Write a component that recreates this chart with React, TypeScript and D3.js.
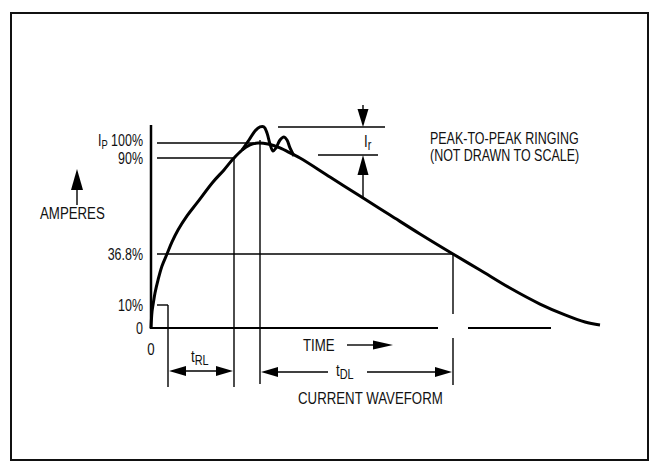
import React from "react";
import * as d3 from "d3";

// percent levels marked on the left axis
const levelValues = [0, 10, 36.8, 90, 100];
const levelLabels = ["0", "10%", "36.8%", "90%", "100%"];
const levelPixels = [328, 305, 254, 158, 143]; // not drawn to scale

// main current waveform (time units, percent of Ip)
const waveT = [0, 0.2, 0.4, 0.8, 1.4, 2.2, 3.2, 4.2, 5.4, 7.2, 9.2, 12.4, 14.6, 16.4, 18.2, 19.8, 21.4, 23.4, 25.8, 28.2, 29.8, 35.8, 41.8, 47.8, 53.8, 60.4, 65.8, 71.8, 77.8, 82.8, 86.8, 89.8];
const waveI = [0, 7.0, 10, 16.3, 23.1, 30.5, 36.8, 43.5, 50.1, 57.9, 65.1, 76.7, 83.4, 89.4, 95.3, 98.7, 100, 99.3, 96.7, 92.7, 90, 79.5, 68.9, 58.4, 47.9, 36.8, 28.4, 18.9, 10.5, 5.7, 2.6, 1.3];

// peak-to-peak ringing on top of the waveform
const ringT = [18.2, 19.6, 20.8, 21.8, 22.6, 23.2, 23.8, 24.4, 25.0, 25.8, 26.6, 27.2, 27.8, 28.6];
const ringI = [95.3, 102, 108, 110.7, 110.7, 106.7, 99.3, 94.7, 96.7, 102, 104, 102, 96.7, 91.3];

// time markers
const t10 = 3.4;
const t90 = 16.6;
const tPeak = 21.8;
const t368 = 60.4;
const axisBreak = [57.4, 63.4];
const axisEnd = 80;
const ringTop = 110.7;
const ringLow = 92;

const FONT = "'Liberation Sans', Arial, sans-serif";
const SQUEEZE = 0.78;

// condensed text, the original uses a narrow face
function T(props: { x: number; y: number; anchor?: string; size?: number; children: any }) {
  return (
    <text
      transform={`translate(${props.x},${props.y}) scale(${SQUEEZE},1)`}
      textAnchor={props.anchor || "start"}
      fontFamily={FONT}
      fontSize={props.size || 17}
      fill="#111"
    >
      {props.children}
    </text>
  );
}

function arrowHead(tipX: number, tipY: number, dir: string, len: number, half: number) {
  let pts: number[][] = [];
  if (dir === "left") pts = [[tipX, tipY], [tipX + len, tipY - half], [tipX + len, tipY + half]];
  if (dir === "right") pts = [[tipX, tipY], [tipX - len, tipY - half], [tipX - len, tipY + half]];
  if (dir === "up") pts = [[tipX, tipY], [tipX - half, tipY + len], [tipX + half, tipY + len]];
  if (dir === "down") pts = [[tipX, tipY], [tipX - half, tipY - len], [tipX + half, tipY - len]];
  return <polygon points={pts.map((p) => p.join(",")).join(" ")} fill="#000" />;
}

export default function App() {
  const x = d3.scaleLinear().domain([0, 90]).range([151, 601]);
  const y = d3.scaleLinear().domain(levelValues).range(levelPixels);

  const curve = d3
    .line<[number, number]>()
    .x((d) => x(d[0]))
    .y((d) => y(d[1]))
    .curve(d3.curveCatmullRom.alpha(0.5));

  const wavePath = curve(waveT.map((t, i) => [t, waveI[i]]));
  const ringPath = curve(ringT.map((t, i) => [t, ringI[i]]));

  const y0 = y(0);
  const bottom = 387;
  const arrowY = 372;
  const lineStart = x(1.2);
  const irX = 363;

  return (
    <svg width={650} height={464} style={{ position: "absolute", left: 0, top: 0, background: "#fff" }}>
      <rect x={11} y={13} width={637} height={447} fill="#fff" stroke="#111" strokeWidth={2} />

      {/* axes */}
      <line x1={x(0)} x2={x(0)} y1={125} y2={y0 + 1} stroke="#000" strokeWidth={2.5} />
      <line x1={x(0)} x2={x(axisBreak[0])} y1={y0} y2={y0} stroke="#000" strokeWidth={2.2} />
      <line x1={x(axisBreak[1])} x2={x(axisEnd)} y1={y0} y2={y0} stroke="#000" strokeWidth={2.2} />

      {/* level lines */}
      <line x1={lineStart} x2={x(20.6)} y1={y(100)} y2={y(100)} stroke="#000" strokeWidth={1.4} />
      <line x1={lineStart} x2={x(t90)} y1={y(90)} y2={y(90)} stroke="#000" strokeWidth={1.4} />
      <line x1={lineStart} x2={x(t368)} y1={y(36.8)} y2={y(36.8)} stroke="#000" strokeWidth={1.4} />
      <line x1={lineStart} x2={x(t10)} y1={y(10)} y2={y(10)} stroke="#000" strokeWidth={1.4} />

      {/* time markers */}
      <line x1={x(t10)} x2={x(t10)} y1={y(10)} y2={bottom} stroke="#000" strokeWidth={1.4} />
      <line x1={x(t90)} x2={x(t90)} y1={y(90)} y2={bottom} stroke="#000" strokeWidth={1.4} />
      <line x1={x(tPeak)} x2={x(tPeak)} y1={y(102)} y2={bottom - 3} stroke="#000" strokeWidth={1.4} />
      <line x1={x(t368)} x2={x(t368)} y1={y(36.8)} y2={314} stroke="#000" strokeWidth={1.4} />
      <line x1={x(t368)} x2={x(t368)} y1={338} y2={bottom - 2} stroke="#000" strokeWidth={1.4} />

      {/* waveform */}
      <path d={wavePath || ""} fill="none" stroke="#000" strokeWidth={3} />
      <path d={ringPath || ""} fill="none" stroke="#000" strokeWidth={3} />

      {/* Ir annotation */}
      <line x1={278} x2={385} y1={y(ringTop)} y2={y(ringTop)} stroke="#000" strokeWidth={1.4} />
      <line x1={318} x2={378} y1={y(ringLow)} y2={y(ringLow)} stroke="#000" strokeWidth={1.4} />
      <line x1={irX} x2={irX} y1={105} y2={y(ringTop) - 10} stroke="#000" strokeWidth={1.4} />
      {arrowHead(irX, y(ringTop), "down", 18, 5.5)}
      <line x1={irX} x2={irX} y1={y(ringLow) + 10} y2={y(68)} stroke="#000" strokeWidth={1.4} />
      {arrowHead(irX, y(ringLow), "up", 20, 5.5)}
      <T x={irX + 1} y={147}>
        I<tspan fontSize={14} dy={3}>r</tspan>
      </T>

      <T x={430} y={144} size={16}>PEAK-TO-PEAK RINGING</T>
      <T x={430} y={161} size={16}>(NOT DRAWN TO SCALE)</T>

      {/* y labels */}
      {levelValues.map((v, i) => (
        <T key={v} x={143} y={v === 100 ? y(v) + 3 : y(v) + 6} anchor="end" size={16}>
          {v === 100 ? (
            <>
              I<tspan fontSize={12} dy={3}>P</tspan>
              <tspan dy={-3}> {levelLabels[i]}</tspan>
            </>
          ) : (
            levelLabels[i]
          )}
        </T>
      ))}

      {/* AMPERES */}
      <line x1={77} x2={77} y1={185} y2={205} stroke="#000" strokeWidth={1.4} />
      {arrowHead(77, 169, "up", 21, 6)}
      <T x={40} y={219}>AMPERES</T>

      {/* x label 0 */}
      <T x={x(0)} y={355} anchor="middle">0</T>

      {/* TIME arrow */}
      <T x={303} y={351}>TIME</T>
      <line x1={347} x2={378} y1={345} y2={345} stroke="#000" strokeWidth={1.4} />
      {arrowHead(393, 345, "right", 20, 4.5)}

      {/* tRL */}
      <line x1={x(t10) + 10} x2={x(t90) - 10} y1={arrowY - 1} y2={arrowY - 1} stroke="#000" strokeWidth={1.4} />
      {arrowHead(x(t10) + 1, arrowY - 1, "left", 17, 5)}
      {arrowHead(x(t90) - 1, arrowY - 1, "right", 17, 5)}
      <T x={191} y={362}>
        t<tspan fontSize={14} dy={3}>RL</tspan>
      </T>

      {/* tDL */}
      <line x1={x(tPeak) + 10} x2={328} y1={arrowY} y2={arrowY} stroke="#000" strokeWidth={1.4} />
      <line x1={367} x2={x(t368) - 10} y1={arrowY} y2={arrowY} stroke="#000" strokeWidth={1.4} />
      {arrowHead(x(tPeak) + 1, arrowY, "left", 17, 5)}
      {arrowHead(x(t368) - 1, arrowY, "right", 17, 5)}
      <T x={336} y={376}>
        t<tspan fontSize={14} dy={3}>DL</tspan>
      </T>

      <T x={298} y={404}>CURRENT WAVEFORM</T>
    </svg>
  );
}
